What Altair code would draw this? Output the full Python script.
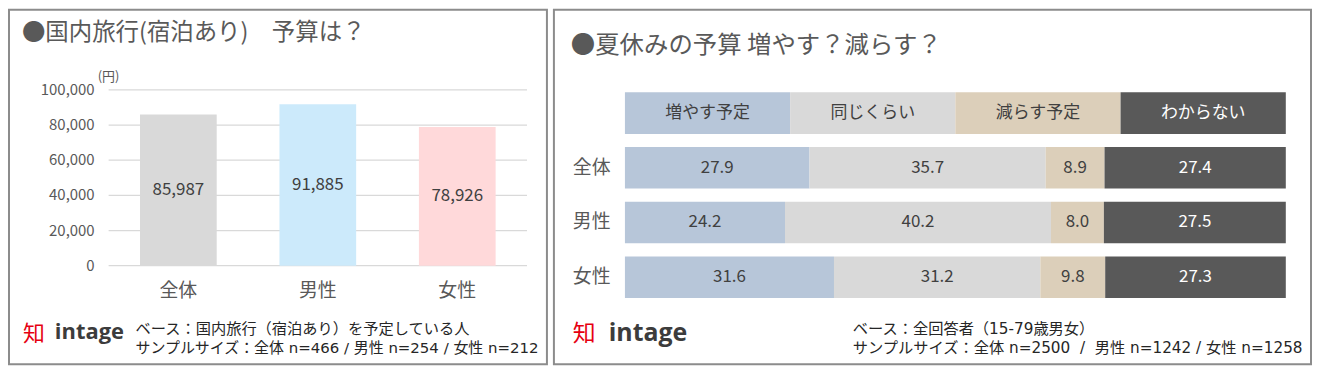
import altair as alt
import pandas as pd

FONT = "Noto Sans CJK JP"
NOTE_FONT = "DejaVu Sans, Noto Sans CJK JP"

# ---------------- data: left panel ----------------
groups = ["全体", "男性", "女性"]
budget = [85987, 91885, 78926]
y_ticks = [0, 20000, 40000, 60000, 80000, 100000]
group_colors = ["#d9d9d9", "#cceafb", "#ffd9da"]

left_title = "●国内旅行(宿泊あり)\u3000予算は？"
left_unit = "(円)"
left_base = "ベース：国内旅行（宿泊あり）を予定している人"
left_n = "サンプルサイズ：全体\u00a0n=466\u00a0/\u00a0男性\u00a0n=254\u00a0/\u00a0女性\u00a0n=212"

# ---------------- data: right panel ----------------
rows = ["全体", "男性", "女性"]
answers = ["増やす予定", "同じくらい", "減らす予定", "わからない"]
increase = [27.9, 24.2, 31.6]
same = [35.7, 40.2, 31.2]
decrease = [8.9, 8.0, 9.8]
unknown = [27.4, 27.5, 27.3]
answer_colors = ["#b7c6d9", "#d9d9d9", "#dccfba", "#595959"]

right_title = "●夏休みの予算 増やす？減らす？"
right_base = "ベース：全回答者（15-79歳男女）"
right_n = "サンプルサイズ：全体\u00a0n=2500\u00a0\u00a0/\u00a0\u00a0男性\u00a0n=1242\u00a0/\u00a0女性\u00a0n=1258"

logo_icon = "知"
logo_word = "intage"

LEFT_W, RIGHT_W, PANEL_H = 540, 760, 356


def note(text, x, y, size, color, align="left", weight="normal", font=FONT, baseline="middle"):
    return alt.Chart(alt.Data(values=[{"t": text}])).mark_text(
        align=align, baseline=baseline, fontSize=size, color=color,
        fontWeight=weight, font=font
    ).encode(x=alt.value(x), y=alt.value(y), text="t:N")


# ---------------- left panel ----------------
left_df = pd.DataFrame({"group": groups, "budget": budget})
tick_df = pd.DataFrame({"tick": y_ticks})

y_l = alt.Scale(domain=[0, 100000], range=[257, 80.5], nice=False)
x_l = alt.Scale(domain=groups, range=[100, 520], paddingInner=0.45, paddingOuter=0.225)

grid = alt.Chart(tick_df).mark_rule(color="#d9d9d9", strokeWidth=1.2).encode(
    y=alt.Y("tick:Q", scale=y_l, axis=None), x=alt.value(100), x2=alt.value(520)
)
tick_lbl = alt.Chart(tick_df).mark_text(
    align="right", baseline="middle", fontSize=15, color="#595959", font=FONT
).encode(y=alt.Y("tick:Q", scale=y_l, axis=None), x=alt.value(86),
         text=alt.Text("tick:Q", format=","))

bars_l = alt.Chart(left_df).mark_bar().encode(
    x=alt.X("group:N", scale=x_l, axis=None),
    y=alt.Y("budget:Q", scale=y_l, axis=None),
    color=alt.Color("group:N", scale=alt.Scale(domain=groups, range=group_colors), legend=None),
)
vals_l = alt.Chart(left_df).transform_calculate(mid="datum.budget / 2").mark_text(
    fontSize=17, color="#404040", font=FONT, baseline="middle"
).encode(
    x=alt.X("group:N", scale=x_l, axis=None),
    y=alt.Y("mid:Q", scale=y_l, axis=None),
    text=alt.Text("budget:Q", format=","),
)
cats_l = alt.Chart(left_df).mark_text(
    fontSize=19, color="#595959", font=FONT, baseline="middle"
).encode(x=alt.X("group:N", scale=x_l, axis=None), y=alt.value(282), text="group:N")

left = alt.layer(
    grid, bars_l, vals_l, tick_lbl, cats_l,
    note(left_title, 13, 23, 23.5, "#595959"),
    note(left_unit, 89, 68, 13, "#595959"),
    note(left_base, 127, 320.5, 15.3, "#262626", font=NOTE_FONT),
    note(left_n, 127, 339.5, 15, "#262626", font=NOTE_FONT),
    note(logo_icon, 14, 326, 22, "#e60012"),
    note(logo_word, 46, 331, 22, "#3c3c3c", weight="bold", font="Open Sans", baseline="alphabetic"),
).properties(width=LEFT_W, height=PANEL_H)

# ---------------- right panel ----------------
series = [increase, same, decrease, unknown]
long_rows = []
for i, r in enumerate(rows):
    for j, a in enumerate(answers):
        long_rows.append({"row": r, "answer": a, "order": j, "value": series[j][i]})
long_df = pd.DataFrame(long_rows)

n_ans = len(answers)
legend_df = pd.DataFrame({
    "answer": answers,
    "row": ["凡例"] * n_ans,
    "start": [j / n_ans for j in range(n_ans)],
    "end": [(j + 1) / n_ans for j in range(n_ans)],
})

y_r = alt.Scale(domain=["凡例"] + rows, range=[76.4, 296], paddingInner=0.24, paddingOuter=0.12)
x_r = alt.Scale(domain=[0, 1], range=[71.3, 734.7], nice=False, zero=False)
col_r = alt.Color("answer:N", scale=alt.Scale(domain=answers, range=answer_colors), legend=None)
txt_col = alt.condition(alt.datum.answer == "わからない", alt.value("#ffffff"), alt.value("#404040"))

leg_rect = alt.Chart(legend_df).mark_rect().encode(
    x=alt.X("start:Q", scale=x_r, axis=None), x2="end:Q",
    y=alt.Y("row:N", scale=y_r, axis=None), color=col_r,
)
leg_text = alt.Chart(legend_df).transform_calculate(
    mid="(datum.start + datum.end) / 2"
).mark_text(fontSize=17, font=FONT, baseline="middle").encode(
    x=alt.X("mid:Q", scale=x_r, axis=None),
    y=alt.Y("row:N", scale=y_r, axis=None),
    text="answer:N", color=txt_col,
)

stacked = alt.Chart(long_df).transform_stack(
    stack="value", groupby=["row"], as_=["v0", "v1"], offset="normalize",
    sort=[alt.SortField("order", order="ascending")],
).transform_calculate(mid="(datum.v0 + datum.v1) / 2")

bars_r = stacked.mark_rect().encode(
    x=alt.X("v0:Q", scale=x_r, axis=None), x2="v1:Q",
    y=alt.Y("row:N", scale=y_r, axis=None), color=col_r,
)
vals_r = stacked.mark_text(fontSize=17, font=FONT, baseline="middle").encode(
    x=alt.X("mid:Q", scale=x_r, axis=None),
    y=alt.Y("row:N", scale=y_r, axis=None),
    text=alt.Text("value:Q", format=".1f"), color=txt_col,
)
row_lbl = alt.Chart(pd.DataFrame({"row": rows})).mark_text(
    align="right", baseline="middle", fontSize=19, color="#595959", font=FONT
).encode(y=alt.Y("row:N", scale=y_r, axis=None), x=alt.value(57), text="row:N")

right = alt.layer(
    leg_rect, leg_text, bars_r, vals_r, row_lbl,
    note(right_title, 17, 36, 24.5, "#595959"),
    note(right_base, 300, 321, 15.3, "#262626", font=NOTE_FONT),
    note(right_n, 300, 340, 15.3, "#262626", font=NOTE_FONT),
    note(logo_icon, 19, 326, 23, "#e60012"),
    note(logo_word, 55, 333, 25, "#3c3c3c", weight="bold", font="Open Sans", baseline="alphabetic"),
).properties(width=RIGHT_W, height=PANEL_H)

chart = alt.hconcat(left, right, spacing=5).resolve_scale(
    x="independent", y="independent", color="independent"
).properties(padding=0, background="#ffffff").configure_view(
    stroke="#8c8c8c", strokeWidth=2
)

chart.save("out.html", embed_options={"renderer": "svg", "actions": False})
